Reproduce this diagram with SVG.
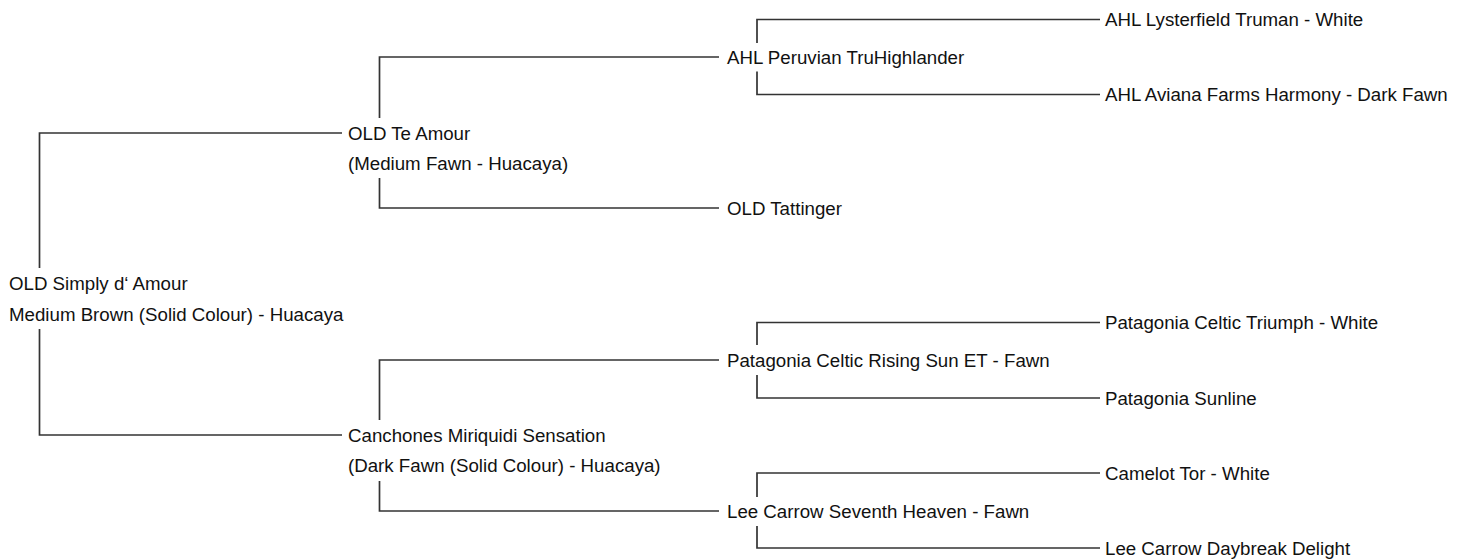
<svg xmlns="http://www.w3.org/2000/svg" width="1465" height="559" viewBox="0 0 1465 559">
<style>
text{font-family:"Liberation Sans",Arial,sans-serif;font-size:18.7px;fill:#111}
.c path{fill:none;stroke:#333;stroke-width:1.7}
</style>
<rect width="1465" height="559" fill="#fff"/>
<g class="c" id="connectors">
<path d="M39.5 268V133H342"/>
<path d="M39.5 329V435H342"/>
<path d="M379.5 118V57H719"/>
<path d="M379.5 178V208H719"/>
<path d="M379.5 420V360H719"/>
<path d="M379.5 481V511H719"/>
<path d="M757 43V19.5H1100"/>
<path d="M757 71.5V94.5H1100"/>
<path d="M757 345V322.5H1100"/>
<path d="M757 375V398H1100"/>
<path d="M757 497V473H1100"/>
<path d="M757 526V548H1100"/>
</g>
<g id="root"><text x="9" y="290">OLD Simply d‘ Amour</text><text x="9" y="320.5">Medium Brown (Solid Colour) - Huacaya</text></g>
<g id="sire"><text x="348" y="139.5">OLD Te Amour</text><text x="348" y="169.5">(Medium Fawn - Huacaya)</text></g>
<g id="dam"><text x="348" y="441.5">Canchones Miriquidi Sensation</text><text x="348" y="471.5">(Dark Fawn (Solid Colour) - Huacaya)</text></g>
<g id="ss"><text x="727" y="63.5">AHL Peruvian TruHighlander</text></g>
<g id="sd"><text x="727" y="214.5">OLD Tattinger</text></g>
<g id="ds"><text x="727" y="366.5">Patagonia Celtic Rising Sun ET - Fawn</text></g>
<g id="dd"><text x="727" y="517.5">Lee Carrow Seventh Heaven - Fawn</text></g>
<g id="sss"><text x="1105" y="26">AHL Lysterfield Truman - White</text></g>
<g id="ssd"><text x="1105" y="101">AHL Aviana Farms Harmony - Dark Fawn</text></g>
<g id="dss"><text x="1105" y="329">Patagonia Celtic Triumph - White</text></g>
<g id="dsd"><text x="1105" y="404.5">Patagonia Sunline</text></g>
<g id="dds"><text x="1105" y="479.5">Camelot Tor - White</text></g>
<g id="ddd"><text x="1105" y="554.5">Lee Carrow Daybreak Delight</text></g>
</svg>
